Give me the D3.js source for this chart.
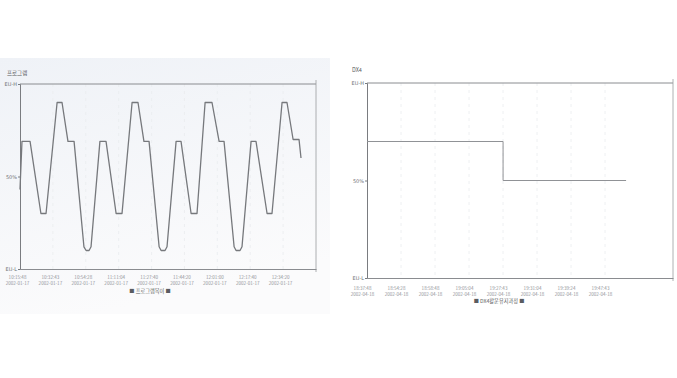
<!DOCTYPE html>
<html>
<head>
<meta charset="utf-8">
<script src="https://cdn.jsdelivr.net/npm/d3@7"></script>
<style>
    body { margin: 0; background: #fff; }
    svg { display: block; }
    text { font-family: 'Noto Sans CJK KR', 'DejaVu Sans', sans-serif; }
</style>
</head>
<body>
<svg id="chart" width="677" height="378"></svg>
<script>
/* ---- data ---- */
// left panel: 프로그램 (minutes from first tick, value in % of EU range)
var progTimes = ['10:15:48', '10:32:43', '10:54:28', '11:11:04', '11:27:40', '11:44:20', '12:01:00', '12:17:40', '12:34:20'];
var progDate  = '2002-01-17';
var progT = [0, 1.0, 5.1, 10.6, 13.2, 18.8, 21.3, 24.3, 27.4, 32.4, 33.5, 35.0, 36.0,
             40.5, 43.6, 48.7, 51.7, 56.8, 59.8, 62.8, 65.4, 70.5, 71.5, 73.5, 74.5,
             79.1, 81.6, 86.7, 89.7, 93.8, 97.3, 100.9, 103.4, 108.5, 109.5, 111.5, 112.5,
             117.1, 119.6, 125.2, 127.7, 132.8, 135.3, 138.4, 141.4, 142.4];
var progV = [43, 69, 69, 30, 30, 90, 90, 69, 69, 12, 10, 10, 12,
             69, 69, 30, 30, 90, 90, 69, 69, 12, 10, 10, 12,
             69, 69, 30, 30, 90, 90, 69, 69, 12, 10, 10, 12,
             69, 69, 30, 30, 90, 90, 70, 70, 60];

// right panel: DX4
var dxTimes = ['18:37:48', '18:54:28', '18:58:48', '19:05:04', '19:27:43', '19:31:04', '19:39:24', '19:47:43'];
var dxDate  = '2002-04-18';
var dxT = [0, 66.7, 66.7, 127];
var dxV = [70, 70, 50, 50];

var yTickVals = [0, 50, 100];
var yTickText = ['EU-L', '50%', 'EU-H'];
var TICK_STEP = 16.667;

var svg = d3.select('#chart');

// scanned paper tint behind the left printout
var defs = svg.append('defs');
var grad = defs.append('linearGradient').attr('id', 'paper')
    .attr('x1', 0).attr('y1', 0).attr('x2', 0.3).attr('y2', 1);
grad.append('stop').attr('offset', '0%').attr('stop-color', '#eff2f7');
grad.append('stop').attr('offset', '100%').attr('stop-color', '#fbfbfc');
svg.append('rect').attr('x', 0).attr('y', 58).attr('width', 330).attr('height', 256)
    .attr('fill', 'url(#paper)');

function drawPanel(cfg) {
    var x = d3.scaleLinear().domain([0, 150]).range([cfg.left, cfg.right]);
    var y = d3.scaleLinear().domain([0, 100]).range([cfg.bottom, cfg.top]);
    var g = svg.append('g');

    // faint vertical grid at tick positions
    var tickVals = cfg.times.map(function(d, i) { return i * TICK_STEP; });
    g.selectAll('.grid').data(tickVals.slice(1)).enter().append('line')
        .attr('x1', function(d) { return x(d); }).attr('x2', function(d) { return x(d); })
        .attr('y1', cfg.top).attr('y2', cfg.bottom)
        .attr('stroke', '#eaecef').attr('stroke-width', 0.8)
        .attr('stroke-dasharray', '3,4');

    // frame: top line, right edge
    g.append('line').attr('x1', cfg.left).attr('x2', cfg.right)
        .attr('y1', cfg.top).attr('y2', cfg.top)
        .attr('stroke', '#8a8c90').attr('stroke-width', 1);
    g.append('line').attr('x1', cfg.right).attr('x2', cfg.right)
        .attr('y1', cfg.top - 4).attr('y2', cfg.bottom + 3)
        .attr('stroke', '#9a9ca0').attr('stroke-width', 0.8);

    // x axis
    var xAxis = g.append('g')
        .attr('transform', 'translate(0,' + cfg.bottom + ')')
        .call(d3.axisBottom(x).tickValues(tickVals).tickSize(0).tickFormat(''));
    xAxis.select('.domain').attr('stroke', '#8a8c90');
    xAxis.selectAll('.tick').each(function(d, i) {
        var t = d3.select(this).append('text')
            .attr('fill', '#94969b').attr('font-size', '4.6px')
            .attr('text-anchor', 'middle').attr('x', cfg.labelDx);
        t.append('tspan').attr('x', cfg.labelDx).attr('y', cfg.labelY).text(cfg.times[i]);
        t.append('tspan').attr('x', cfg.labelDx).attr('y', cfg.labelY + 6).text(cfg.date);
    });

    // y axis
    var yAxis = g.append('g')
        .attr('transform', 'translate(' + cfg.left + ',0)')
        .call(d3.axisLeft(y).tickValues(yTickVals).tickSize(2).tickPadding(1)
            .tickFormat(function(d, i) { return yTickText[i]; }));
    yAxis.select('.domain').attr('stroke', '#7a7c80');
    yAxis.selectAll('.tick line').attr('stroke', '#7a7c80');
    yAxis.selectAll('.tick text').attr('fill', '#707276').attr('font-size', '5px')
        .style('font-family', "'DejaVu Sans', sans-serif");

    // series line
    var pts = cfg.t.map(function(d, i) { return [d, cfg.v[i]]; });
    g.append('path').datum(pts)
        .attr('fill', 'none')
        .attr('stroke', cfg.lineColor)
        .attr('stroke-width', cfg.lineWidth)
        .attr('stroke-linejoin', 'round')
        .attr('d', d3.line()
            .x(function(d) { return x(d[0]); })
            .y(function(d) { return y(d[1]); }));

    // title + legend
    g.append('text').attr('x', cfg.titleX).attr('y', cfg.titleY)
        .attr('fill', '#5a5c60').attr('font-size', '5.5px')
        .text(cfg.title);
    g.append('text').attr('x', cfg.legendX).attr('y', cfg.legendY)
        .attr('text-anchor', 'middle')
        .attr('fill', '#5a5c60').attr('font-size', '5.2px')
        .text('\u25A0 ' + cfg.legend + ' \u25A0');
}

drawPanel({
    left: 20, right: 316, top: 84, bottom: 269,
    times: progTimes, date: progDate, t: progT, v: progV,
    labelDx: -3, labelY: 10,
    lineColor: '#76787c', lineWidth: 1.3,
    title: '프로그램', titleX: 7, titleY: 75,
    legend: '프로그램목이', legendX: 150, legendY: 293
});

drawPanel({
    left: 367, right: 673, top: 83, bottom: 278,
    times: dxTimes, date: dxDate, t: dxT, v: dxV,
    labelDx: -5, labelY: 12,
    lineColor: '#909296', lineWidth: 1,
    title: 'DX4', titleX: 352, titleY: 72,
    legend: 'DX4활운유지과정', legendX: 499, legendY: 303
});
</script>
</body>
</html>
